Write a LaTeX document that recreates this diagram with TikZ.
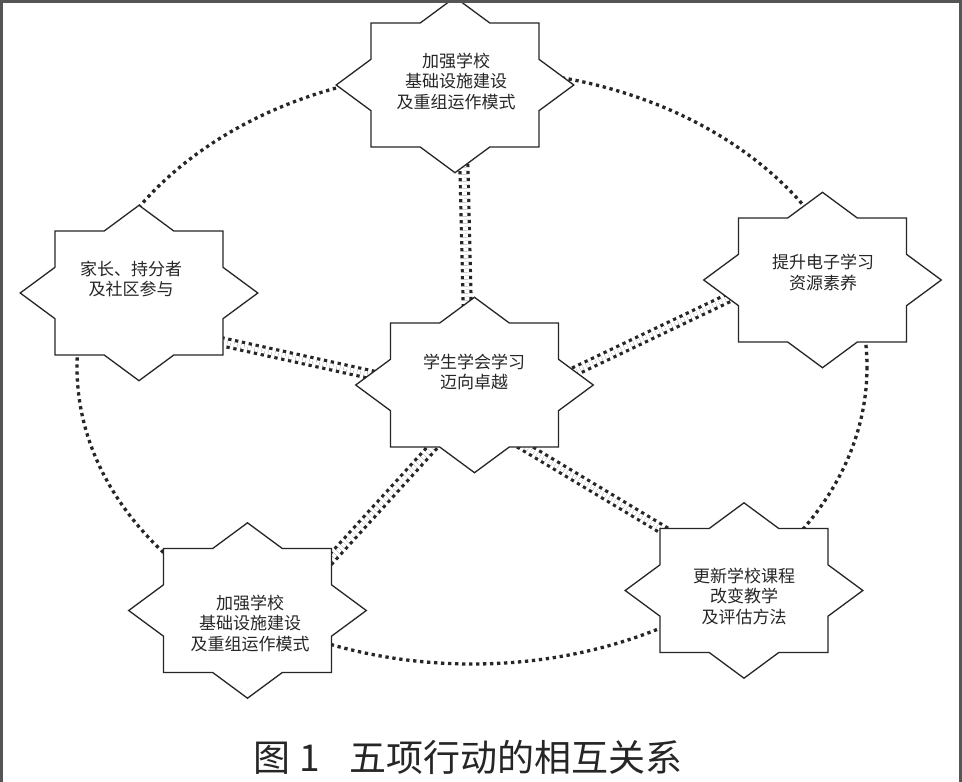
\documentclass[tikz,border=0pt]{standalone}
\usepackage{fontspec}
\setmainfont{Noto Sans CJK SC}
\definecolor{ink}{HTML}{262626}
\definecolor{framec}{HTML}{555555}
\tikzset{
  dotline/.style={draw=ink, line width=3.3pt, dash pattern=on 3.3pt off 3.7pt},
  dbl/.style={draw=ink, line width=3.2pt, dash pattern=on 3.3pt off 3.7pt, double=white, double distance=4.8pt},
  octstar/.pic={
    \filldraw[fill=white, draw=ink, line width=1.3pt, line join=miter]
      (118.8,0) -- (84,25.7) -- (84,62) -- (34.8,62) -- (0,87.7) -- (-34.8,62)
      -- (-84,62) -- (-84,25.7) -- (-118.8,0) -- (-84,-25.7) -- (-84,-62)
      -- (-34.8,-62) -- (0,-87.7) -- (34.8,-62) -- (84,-62) -- (84,-25.7) -- cycle;
  },
  lbl/.style={font=\fontsize{17}{20.5}\selectfont, align=center, text=ink, inner sep=0pt},
  captionstyle/.style={font=\fontsize{37}{40}\selectfont, text=ink, inner sep=0pt},
}
\begin{document}
\begin{tikzpicture}[x=1pt, y=-1pt]
\useasboundingbox (0,0) rectangle (962,782);
\fill[white] (0,0) rectangle (962,782);

% star centres
\coordinate (T)  at (455,85);
\coordinate (C)  at (474.5,385);
\coordinate (L)  at (139,293);
\coordinate (R)  at (822.5,280);
\coordinate (BL) at (247.5,610.5);
\coordinate (BR) at (744,590.5);

% connector end points (hidden inside the stars)
\coordinate (Tend)  at (463.5,150);
\coordinate (CfromT) at (467.8,330);
\coordinate (Lend)  at (200,337);
\coordinate (CfromL) at (400,381);
\coordinate (Rend)  at (760,283);
\coordinate (CfromR) at (550,383);
\coordinate (BLend) at (300,593);
\coordinate (CfromBL) at (450,428);
\coordinate (BRend) at (690,546);
\coordinate (CfromBR) at (500,432);

% big dotted ring
\coordinate (ring) at (472,367);
\draw[dotline] (ring) ellipse [x radius=395, y radius=297];

% double dotted connectors
\draw[dbl] (Tend) -- (CfromT);
\draw[dbl] (Lend) -- (CfromL);
\draw[dbl] (Rend) -- (CfromR);
\draw[dbl] (BLend) -- (CfromBL);
\draw[dbl] (BRend) -- (CfromBR);

% stars
\pic at (T)  {octstar};
\pic at (C)  {octstar};
\pic at (L)  {octstar};
\pic at (R)  {octstar};
\pic at (BL) {octstar};
\pic at (BR) {octstar};

% texts
\node[lbl] (tT)  at (456,81)  {加强学校\\基础设施建设\\及重组运作模式};
\node[lbl] (tC)  at (474,372) {学生学会学习\\迈向卓越};
\node[lbl] (tL)  at (131,279) {家长、持分者\\及社区参与};
\node[lbl] (tR)  at (823,272.5) {提升电子学习\\资源素养};
\node[lbl] (tBL) at (250,623) {加强学校\\基础设施建设\\及重组运作模式};
\node[lbl] (tBR) at (744,596) {更新学校课程\\改变教学\\及评估方法};

% frame
\draw[framec, line width=2.5pt] (1.25,782) -- (1.25,1.25) -- (960.7,1.25) -- (960.7,782);

% caption
\node[captionstyle] (cap) at (468,757) {图 1\hspace{0.8em}五项行动的相互关系};
\end{tikzpicture}
\end{document}
